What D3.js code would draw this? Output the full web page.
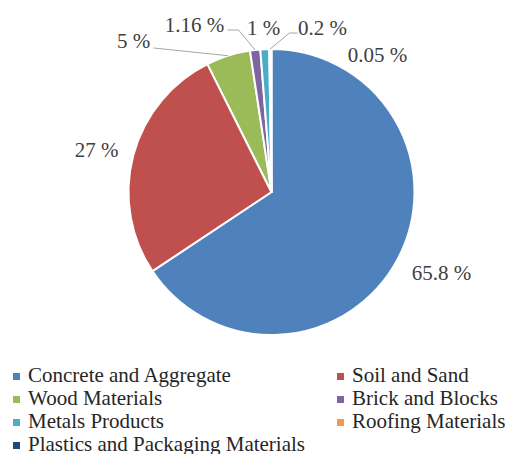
<!DOCTYPE html>
<html>
<head>
<meta charset="utf-8">
<script src="https://cdn.jsdelivr.net/npm/d3@7"></script>
<style>
  body { margin: 0; background: #fff; }
</style>
</head>
<body>
<script>
// Datos de la gráfica (porcentajes)
const categories = ['Concrete and Aggregate', 'Soil and Sand', 'Wood Materials', 'Brick and Blocks',
                    'Metals Products', 'Roofing Materials', 'Plastics and Packaging Materials'];
const values = [65.8, 27, 5, 1.16, 1, 0.2, 0.05];
const labels = ['65.8 %', '27 %', '5 %', '1.16 %', '1 %', '0.2 %', '0.05 %'];
const colors = ['#4F81BD', '#C0504D', '#9BBB59', '#8064A2', '#4BACC6', '#F79646', '#1F497D'];

const WIDTH = 507, HEIGHT = 454;
const cx = 271.5, cy = 192, radius = 143;
const FONT = 'Liberation Serif';

// Posición de las etiquetas relativa al centro del pie (como en Excel, movidas a mano)
// leader: puntos del codo de la línea guía, relativos al centro
const labelLayout = [
    {dx: 170, dy: 81},
    {dx: -175, dy: -42},
    {dx: -138, dy: -151, leader: [[-118, -144]]},
    {dx: -77, dy: -167, leader: [[-44, -162], [-33, -162]]},
    {dx: -8, dy: -164},
    {dx: 51, dy: -164, leader: [[26, -159], [18, -159]]},
    {dx: 106, dy: -137}
];

const svg = d3.select('body')
    .append('svg')
        .attr('width', WIDTH)
        .attr('height', HEIGHT);

const g = svg.append('g')
    .attr('transform', `translate(${cx},${cy})`);

const pie = d3.pie().sort(null).value(d => d);
const arcs = pie(values);

const arc = d3.arc().innerRadius(0).outerRadius(radius);

g.selectAll('path.slice')
    .data(arcs)
    .enter().append('path')
        .attr('class', 'slice')
        .attr('d', arc)
        .attr('fill', (d, i) => colors[i])
        .attr('stroke', '#fff')
        .attr('stroke-width', 2)
        .attr('stroke-linejoin', 'round');

// Líneas guía desde la etiqueta hasta el borde del sector
const outerPoint = d => {
    const a = (d.startAngle + d.endAngle) / 2;
    return [radius * Math.sin(a), -radius * Math.cos(a)];
};

g.selectAll('path.leader')
    .data(arcs.filter((d, i) => labelLayout[i].leader))
    .enter().append('path')
        .attr('class', 'leader')
        .attr('fill', 'none')
        .attr('stroke', '#a6a6a6')
        .attr('stroke-width', 1)
        .attr('d', d => d3.line()(labelLayout[d.index].leader.concat([outerPoint(d)])));

// Etiquetas: y es la línea base del texto
g.selectAll('text.label')
    .data(arcs)
    .enter().append('text')
        .attr('class', 'label')
        .attr('x', (d, i) => labelLayout[i].dx)
        .attr('y', (d, i) => labelLayout[i].dy + 7)
        .attr('text-anchor', 'middle')
        .attr('fill', '#404040')
        .attr('font-family', FONT)
        .attr('font-size', 21)
        .text((d, i) => labels[i]);

// Leyenda en dos columnas
const legendX = d3.scalePoint().domain([0, 1]).range([13, 337]);
const legendY = d3.scaleLinear().domain([0, 3]).range([382, 451]);

const legend = svg.selectAll('.legend')
    .data(categories)
    .enter().append('g')
        .attr('class', 'legend')
        .attr('transform', (d, i) => `translate(${legendX(i % 2)},${legendY(Math.floor(i / 2))})`);

legend.append('rect')
    .attr('x', 0)
    .attr('y', -9)
    .attr('width', 7)
    .attr('height', 7)
    .attr('fill', (d, i) => colors[i]);

legend.append('text')
    .attr('x', 15)
    .attr('y', 0)
    .attr('fill', '#262626')
    .attr('font-family', FONT)
    .attr('font-size', 21)
    .text(d => d);
</script>
</body>
</html>
